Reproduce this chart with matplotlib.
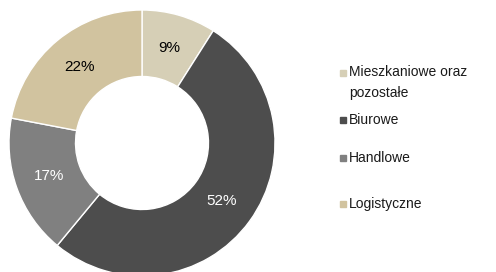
import numpy as np
import matplotlib.pyplot as plt

# dane
labels = ['Mieszkaniowe oraz\npozostałe', 'Biurowe', 'Handlowe', 'Logistyczne']
values = [9, 52, 17, 22]
colors = ['#d6cfb6', '#4d4d4d', '#808080', '#d1c39f']
label_colors = ['black', 'white', 'white', 'black']

plt.rcParams['font.family'] = ['Liberation Sans', 'DejaVu Sans']

fig = plt.figure(figsize=(4.96, 2.72), dpi=100)
W, H = 496, 272
cx, cy, r = 142, 143, 133
ax = fig.add_axes([(cx - r) / W, (H - cy - r) / H, 2 * r / W, 2 * r / H])

wedges, texts = ax.pie(values, colors=colors, startangle=90, counterclock=False,
                       radius=1, wedgeprops=dict(width=0.5, edgecolor='white', linewidth=1))
ax.set_xlim(-1, 1)
ax.set_ylim(-1, 1)

# etykiety procentowe
angle = 90
for v, c in zip(values, label_colors):
    mid = np.deg2rad(angle - v / 100 * 360 / 2)
    angle -= v / 100 * 360
    ax.text(0.74 * np.cos(mid), 0.74 * np.sin(mid), f'{v}%', ha='center', va='center',
            fontsize=11, color=c)

# legenda
leg_y = [73, 120, 158, 204]
for lab, col, y in zip(labels, colors, leg_y):
    fig.patches.append(plt.Rectangle((340 / W, (H - y - 3) / H), 6 / W, 6 / H,
                                     transform=fig.transFigure, color=col))
    if '\n' in lab:
        fig.text(349 / W, (H - y + 8) / H, lab, fontsize=10, va='top', ha='left',
                 color='#1a1a1a', linespacing=1.6)
    else:
        fig.text(349 / W, (H - y) / H, lab, fontsize=10, va='center', ha='left',
                 color='#1a1a1a')

fig.savefig('out.png', dpi=100)
